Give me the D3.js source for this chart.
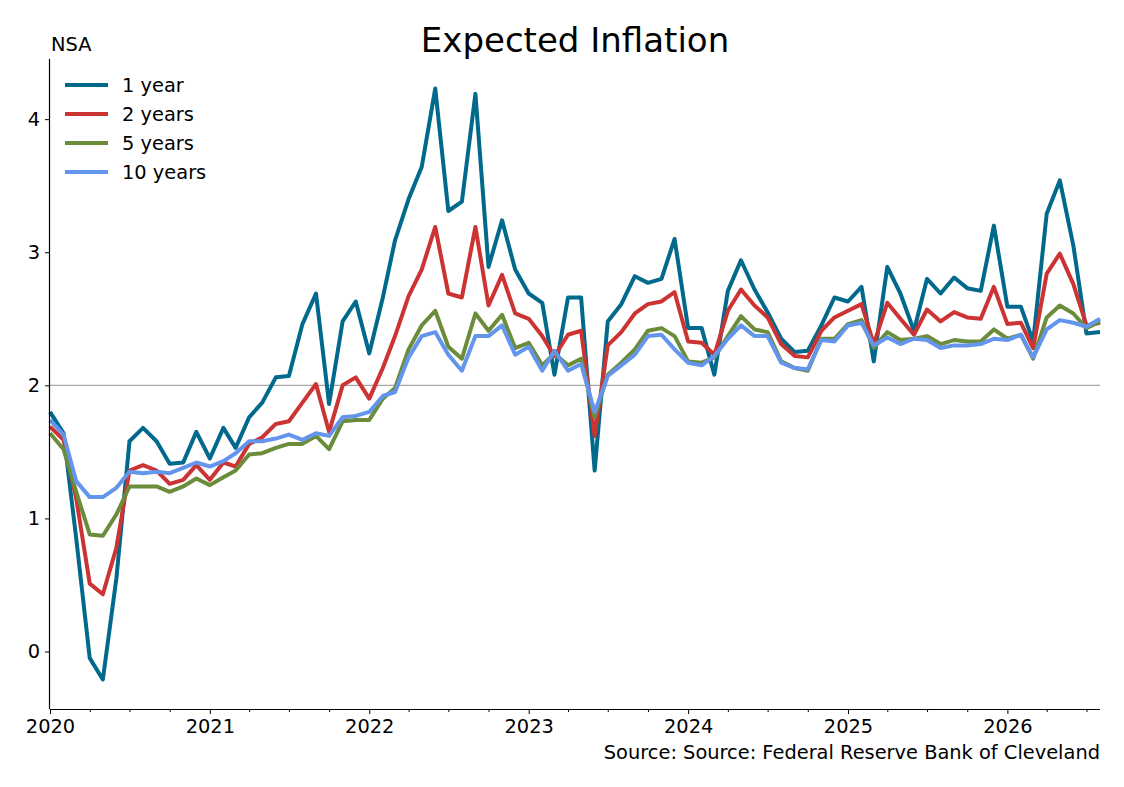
<!DOCTYPE html>
<html>
<head>
<meta charset="utf-8">
<script src="https://cdn.jsdelivr.net/npm/d3@7"></script>
<style>
  html, body { margin: 0; padding: 0; background: #fff; }
  svg text { font-family: "DejaVu Sans", sans-serif; fill: #000; }
</style>
</head>
<body>
<svg id="chart" width="1124" height="787"></svg>
<script>
// ---- data ----
const startMonth = "2020-01";
const seriesNames = ["1 year", "2 years", "5 years", "10 years"];
const seriesColors = ["#00698c", "#cc3333", "#6b8c3a", "#6495ed"];
const yTicks = [0, 1, 2, 3, 4];
const xTickYears = [2020, 2021, 2022, 2023, 2024, 2025, 2026];

const oneYear = [1.80,1.64,0.85,-0.05,-0.21,0.55,1.58,1.68,1.58,1.41,1.42,1.65,1.45,1.68,1.53,1.76,1.87,2.06,2.07,2.46,
  2.69,1.86,2.48,2.63,2.24,2.66,3.09,3.40,3.64,4.23,3.31,3.38,4.19,2.89,3.24,2.87,2.69,2.62,2.08,2.66,
  2.66,1.36,2.48,2.61,2.82,2.77,2.80,3.10,2.43,2.43,2.08,2.71,2.94,2.72,2.55,2.35,2.25,2.26,2.45,2.66,
  2.63,2.74,2.18,2.89,2.69,2.41,2.80,2.69,2.81,2.73,2.71,3.20,2.59,2.59,2.33,3.29,3.54,3.05,2.39,2.40];
const twoYears = [1.69,1.59,1.15,0.51,0.43,0.78,1.36,1.40,1.36,1.26,1.29,1.40,1.29,1.42,1.39,1.56,1.61,1.71,1.73,1.87,
  2.01,1.65,2.00,2.06,1.90,2.13,2.37,2.67,2.87,3.19,2.69,2.66,3.19,2.60,2.83,2.54,2.50,2.37,2.22,2.38,
  2.41,1.62,2.30,2.40,2.54,2.61,2.63,2.70,2.33,2.32,2.23,2.56,2.72,2.60,2.51,2.31,2.22,2.21,2.41,2.51,
  2.56,2.61,2.31,2.62,2.50,2.38,2.57,2.48,2.55,2.51,2.50,2.74,2.46,2.47,2.28,2.84,2.99,2.76,2.45,2.47];
const fiveYears = [1.64,1.52,1.20,0.88,0.87,1.03,1.24,1.24,1.24,1.20,1.24,1.30,1.25,1.31,1.36,1.48,1.49,1.53,1.56,1.56,
  1.62,1.52,1.73,1.74,1.74,1.90,1.98,2.27,2.45,2.56,2.29,2.20,2.54,2.41,2.53,2.28,2.32,2.15,2.24,2.15,
  2.20,1.76,2.08,2.17,2.27,2.41,2.43,2.37,2.18,2.17,2.21,2.37,2.52,2.42,2.40,2.18,2.13,2.11,2.35,2.35,
  2.46,2.49,2.28,2.40,2.34,2.35,2.37,2.31,2.34,2.33,2.33,2.42,2.35,2.38,2.20,2.51,2.60,2.54,2.43,2.48];
const tenYears = [1.74,1.63,1.28,1.16,1.16,1.23,1.35,1.34,1.35,1.34,1.38,1.42,1.39,1.43,1.49,1.58,1.58,1.60,1.63,1.59,
  1.64,1.62,1.76,1.77,1.80,1.92,1.95,2.21,2.37,2.40,2.23,2.11,2.37,2.37,2.45,2.23,2.29,2.11,2.26,2.11,
  2.16,1.80,2.07,2.15,2.23,2.37,2.38,2.27,2.17,2.15,2.22,2.35,2.45,2.37,2.37,2.17,2.13,2.12,2.34,2.33,
  2.45,2.47,2.30,2.36,2.31,2.35,2.34,2.28,2.30,2.30,2.31,2.35,2.34,2.38,2.21,2.42,2.49,2.47,2.44,2.50];

const allSeries = [oneYear, twoYears, fiveYears, tenYears];
const parseMonth = d3.timeParse("%Y-%m");
const start = parseMonth(startMonth);
const dates = oneYear.map((_, i) => d3.timeMonth.offset(start, i));

// ---- layout ----
const svg = d3.select("#chart");
const L = 50, R = 1100, T = 59, B = 709;
const FS = "19.4px";

const x = d3.scaleTime().domain([dates[0], dates[dates.length - 1]]).range([L, R]);
const allVals = allSeries.flat();
const ymin = d3.min(allVals), ymax = d3.max(allVals);
const pad = (ymax - ymin) * 0.05;
const y = d3.scaleLinear().domain([ymin - pad, ymax + pad]).range([B, T]);

// reference line at 2
svg.append("line")
  .attr("x1", L).attr("x2", R)
  .attr("y1", y(2)).attr("y2", y(2))
  .attr("stroke", "#a6a6a6").attr("stroke-width", 1.4);

// lines
const line = d3.line().x((d, i) => x(dates[i])).y(d => y(d));
allSeries.forEach((s, k) => {
  svg.append("path")
    .datum(s)
    .attr("d", line)
    .attr("fill", "none")
    .attr("stroke", seriesColors[k])
    .attr("stroke-width", 4)
    .attr("stroke-linejoin", "round")
    .attr("stroke-linecap", "butt");
});

// axes
const yAxis = d3.axisLeft(y).tickValues(yTicks).tickFormat(d3.format("d")).tickSize(5).tickPadding(5);
const gy = svg.append("g").attr("transform", `translate(${L},0)`).call(yAxis);
gy.select(".domain").attr("d", `M-0.5,${T}V${B}`).attr("stroke", "#000").attr("stroke-width", 1.2);
gy.selectAll("text").style("font-size", FS);

const minorTicks = d3.timeMonth.every(3).range(dates[0], d3.timeMonth.offset(dates[dates.length - 1], 1))
  .filter(d => d.getMonth() !== 0);
const gxMinor = svg.append("g").attr("transform", `translate(0,${B})`)
  .call(d3.axisBottom(x).tickValues(minorTicks).tickSize(3).tickFormat(""));
gxMinor.select(".domain").remove();

const yearTicks = xTickYears.map(yv => new Date(yv, 0, 1));
const xAxis = d3.axisBottom(x).tickValues(yearTicks).tickFormat(d3.timeFormat("%Y")).tickSize(5).tickPadding(5);
const gx = svg.append("g").attr("transform", `translate(0,${B})`).call(xAxis);
gx.select(".domain").attr("d", `M${L},0.5H${R}`).attr("stroke", "#000").attr("stroke-width", 1.2);
gx.selectAll("text").style("font-size", FS);

// title
svg.append("text").attr("x", 575).attr("y", 52).attr("text-anchor", "middle")
  .style("font-size", "34px").text("Expected Inflation");
svg.append("text").attr("x", 51).attr("y", 51).style("font-size", FS).text("NSA");

// source
svg.append("text").attr("x", 1100).attr("y", 759).attr("text-anchor", "end")
  .style("font-size", FS).text("Source: Source: Federal Reserve Bank of Cleveland");

// legend
const lg = svg.append("g");
seriesNames.forEach((n, k) => {
  const yy = 85 + k * 29;
  lg.append("line").attr("x1", 65).attr("x2", 108).attr("y1", yy).attr("y2", yy)
    .attr("stroke", seriesColors[k]).attr("stroke-width", 4);
  lg.append("text").attr("x", 122).attr("y", yy + 7).style("font-size", FS).text(n);
});
</script>
</body>
</html>
